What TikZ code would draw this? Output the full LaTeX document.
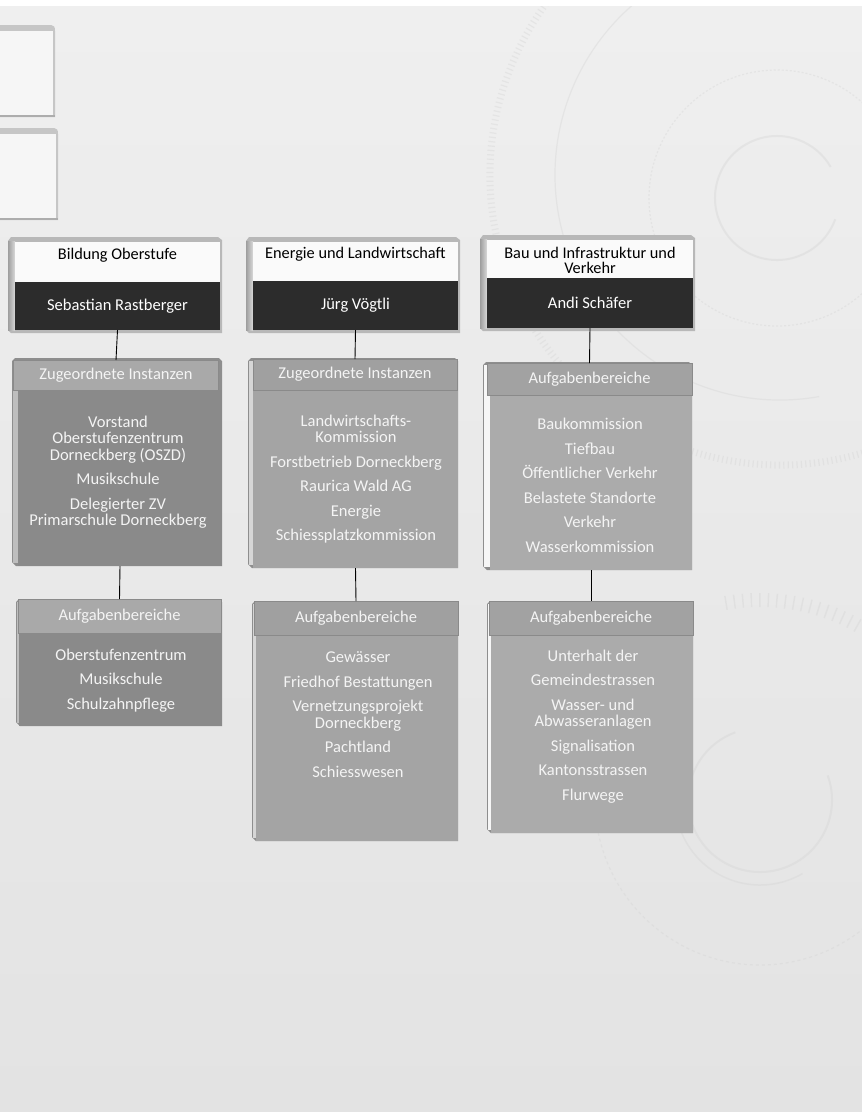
\documentclass[tikz,border=0pt]{standalone}
\usepackage{fontspec}
\setmainfont{Carlito}
\usetikzlibrary{calc}
\definecolor{bgtop}{HTML}{EFEFEF}
\definecolor{bgbot}{HTML}{E3E3E3}
\definecolor{deco}{HTML}{D2D2D2}
\definecolor{namebg}{HTML}{2C2C2C}
\definecolor{titlebg}{HTML}{FAFAFA}
\definecolor{bevelcol}{HTML}{B8B8B8}
\definecolor{bevdark}{HTML}{9E9E9E}
\definecolor{bevlight}{HTML}{D9D9D9}
\definecolor{edgecol}{HTML}{8E8E8E}
\definecolor{headline}{HTML}{8A8A8A}
\definecolor{hdA}{HTML}{A9A9A9}
\definecolor{bdA}{HTML}{8A8A8A}
\definecolor{hdB}{HTML}{A0A0A0}
\definecolor{bdB}{HTML}{A4A4A4}
\definecolor{hdC}{HTML}{A2A2A2}
\definecolor{bdC}{HTML}{ABABAB}
\definecolor{stripA}{HTML}{BEBEBE}
\definecolor{stripB}{HTML}{D6D6D6}
\definecolor{stripC}{HTML}{F6F6F6}
\definecolor{txtlight}{HTML}{F4F4F4}
\definecolor{tlface}{HTML}{F6F6F6}
\definecolor{tlstrip}{HTML}{C6C6C6}
\newcommand\hdrbevel[4]{%
  \fill[bevelcol] ({#1-7},{#2-1}) -- ({#1-4},{#2-5}) -- ({#3-2},{#2-5}) -- ({#3+2},{#2-2}) -- ({#3+2},{#4+3}) -- ({#1-4},{#4+3}) -- ({#1-7},{#4}) -- cycle;
  \shade[left color=bevdark, right color=bevlight] ({#1-7},{#2-1}) rectangle (#1,{#4});
  \fill[titlebg] (#1,#2) rectangle (#3,{#2+40});
}
\newcommand\lstbevel[5]{%
  \fill[edgecol] (#1,{#2+3}) -- ({#1+3},#2) -- ({#3-3},#2) -- (#3,{#2+3}) -- (#3,#4) -- ({#1+4},#4) -- (#1,{#4-4}) -- cycle;
  \fill[#5] ({#1+1},{#2+3}) rectangle ({#1+7},{#4-3});
}
\tikzset{
  basefont/.style={font=\fontsize{16.5}{16.5}\selectfont},
  namebox/.style={rectangle, inner sep=0, outer sep=0, fill=namebg, text=white, basefont},
  titletext/.style={inner sep=0, align=center, text=black, font=\fontsize{16.3}{15}\selectfont},
  listhead/.style={rectangle, inner sep=0, outer sep=0, draw=headline, line width=0.8, text=txtlight, basefont},
  listbody/.style={rectangle, inner sep=0, outer sep=0},
  listtext/.style={inner sep=0, align=center, text=txtlight, basefont},
  link/.style={draw=black, line width=0.9},
  decoline/.style={draw=deco, line width=1.2, opacity=0.35},
}
\begin{document}
\begin{tikzpicture}[x=1pt,y=-1pt]
\useasboundingbox (0,0) rectangle (862,1112);
% background
\shade[top color=bgtop, bottom color=bgbot] (0,6) rectangle (862,1112);
% decorations
\draw[decoline, line width=7, dash pattern=on 1.2 off 3.2] (780,175) ++(70:290) arc[start angle=70, end angle=250, radius=290];
\draw[decoline] (780,175) ++(80:225) arc[start angle=80, end angle=245, radius=225];
\draw[decoline, line width=2] (777,198) ++(20:62) arc[start angle=20, end angle=330, radius=62];
\draw[decoline, dash pattern=on 2 off 2] (777,198) circle[radius=128];
\draw[decoline, line width=2] (760,800) ++(-20:72) arc[start angle=-20, end angle=250, radius=72];
\draw[decoline, line width=1.5] (760,800) ++(60:85) arc[start angle=60, end angle=200, radius=85];
\draw[decoline, dash pattern=on 3 off 3] (760,800) ++(30:165) arc[start angle=30, end angle=240, radius=165];
\draw[decoline, line width=14, dash pattern=on 1.5 off 7] (760,800) ++(260:200) arc[start angle=260, end angle=300, radius=200];
\fill[white] (0,0) rectangle (862,6);
% top-left partial boxes
\fill[tlstrip] (-1,32) -- (-1,25) -- (51,25) .. controls (54,25) and (55,27) .. (55,31) -- (55,117) -- (-1,117) -- cycle;
\fill[tlface] (-1,31) rectangle (53,115.5);
\draw[headline!70, line width=1.5] (-1,116) -- (55,116);
\fill[tlstrip] (-1,135) -- (-1,128) -- (54,128) .. controls (57,128) and (58,130) .. (58,134) -- (58,220) -- (-1,220) -- cycle;
\fill[tlface] (-1,134) rectangle (56,218.5);
\draw[headline!70, line width=1.5] (-1,219) -- (58,219);
% header boxes
\hdrbevel{15}{242}{220}{330}
\hdrbevel{253}{242}{458}{330}
\hdrbevel{487}{240}{693}{328}
\node[titletext] (t1) at (117.5,255) {Bildung Oberstufe};
\node[titletext] (t2) at (355.5,254) {Energie und Landwirtschaft};
\node[titletext] (t3) at (590,260.5) {Bau und Infrastruktur und\\Verkehr};
\node[namebox, minimum width=205, minimum height=48] (p1) at (117.5,306) {Sebastian Rastberger};
\node[namebox, minimum width=205, minimum height=49] (p2) at (355.5,305.5) {Jürg Vögtli};
\node[namebox, minimum width=206, minimum height=50] (p3) at (590,303) {Andi Schäfer};
% middle list boxes
\lstbevel{12}{358}{222}{566}{stripA}
\lstbevel{248}{358}{458}{568}{stripB}
\lstbevel{483}{362}{692}{570}{stripC}
\node[listbody, fill=bdA, minimum width=204, minimum height=176] (mb1) at (120,478) {};
\node[listbody, fill=bdB, minimum width=205, minimum height=178] (mb2) at (355.5,479) {};
\node[listbody, fill=bdC, minimum width=202, minimum height=175] (mb3) at (591,482.5) {};
\node[listhead, fill=hdA, minimum width=205, minimum height=30] (mh1) at (116,375) {Zugeordnete Instanzen};
\node[listhead, fill=hdB, minimum width=204, minimum height=31] (mh2) at (355,374.5) {Zugeordnete Instanzen};
\node[listhead, fill=hdC, minimum width=205, minimum height=32] (mh3) at (589.5,379) {Aufgabenbereiche};
\node[listtext] (mt1) at (118,472) {Vorstand\\Oberstufenzentrum\\Dorneckberg (OSZD)\\[8pt]Musikschule\\[8pt]Delegierter ZV\\Primarschule Dorneckberg};
\node[listtext] (mt2) at (356,479) {Landwirtschafts-\\Kommission\\[8pt]Forstbetrieb Dorneckberg\\[8pt]Raurica Wald AG\\[8pt]Energie\\[8pt]Schiessplatzkommission};
\node[listtext] (mt3) at (590,485.5) {Baukommission\\[8pt]Tiefbau\\[8pt]Öffentlicher Verkehr\\[8pt]Belastete Standorte\\[8pt]Verkehr\\[8pt]Wasserkommission};
% bottom list boxes
\lstbevel{16}{599}{222}{726}{stripA}
\lstbevel{252}{601}{458}{841}{stripB}
\lstbevel{487}{601}{693}{833}{stripC}
\node[listbody, fill=bdA, minimum width=203, minimum height=93] (bb1) at (120.5,679.5) {};
\node[listbody, fill=bdB, minimum width=202, minimum height=206] (bb2) at (357,738) {};
\node[listbody, fill=bdC, minimum width=202, minimum height=198] (bb3) at (592,734) {};
\node[listhead, fill=hdA, minimum width=203, minimum height=34] (bh1) at (119.5,616) {Aufgabenbereiche};
\node[listhead, fill=hdB, minimum width=204, minimum height=34] (bh2) at (356,618) {Aufgabenbereiche};
\node[listhead, fill=hdC, minimum width=204, minimum height=34] (bh3) at (591,618) {Aufgabenbereiche};
\node[listtext] (bt1) at (121,680.5) {Oberstufenzentrum\\[8pt]Musikschule\\[8pt]Schulzahnpflege};
\node[listtext] (bt2) at (358,714.5) {Gewässer\\[8pt]Friedhof Bestattungen\\[8pt]Vernetzungsprojekt\\Dorneckberg\\[8pt]Pachtland\\[8pt]Schiesswesen};
\node[listtext] (bt3) at (593,726.5) {Unterhalt der\\[8pt]Gemeindestrassen\\[8pt]Wasser- und\\Abwasseranlagen\\[8pt]Signalisation\\[8pt]Kantonsstrassen\\[8pt]Flurwege};
% connectors
\draw[link] (p1.south) -- (mh1.north);
\draw[link] (p2.south) -- (mh2.north);
\draw[link] (p3.south) -- (mh3.north);
\draw[link] (mb1.south) -- (bh1.north);
\draw[link] (mb2.south) -- (bh2.north);
\draw[link] (mb3.south) -- (bh3.north);
\end{tikzpicture}
\end{document}
